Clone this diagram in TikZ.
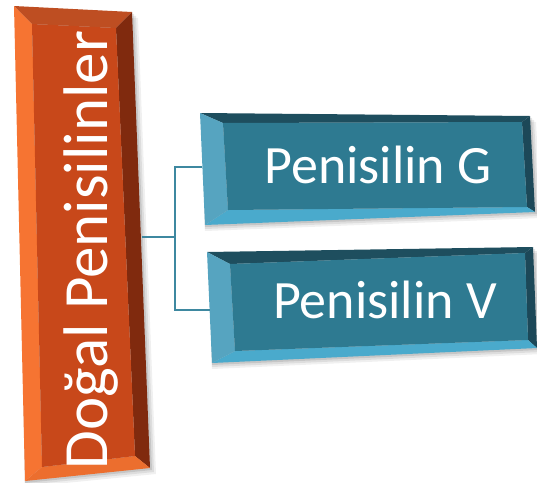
\documentclass[tikz,border=0pt]{standalone}
\usepackage{fontspec}
\setmainfont{Carlito}
\definecolor{orFace}{RGB}{200,72,26}
\definecolor{orTop}{RGB}{190,78,34}
\definecolor{orLeft}{RGB}{246,116,50}
\definecolor{orRight}{RGB}{128,42,14}
\definecolor{orBot}{RGB}{236,110,46}
\definecolor{tlFace}{RGB}{46,122,145}
\definecolor{tlTop}{RGB}{30,78,94}
\definecolor{tlLeft}{RGB}{86,164,192}
\definecolor{tlRight}{RGB}{28,72,88}
\definecolor{tlBot}{RGB}{74,170,204}
\definecolor{lineTeal}{RGB}{62,136,160}
\newcommand\bevelbox[6]{%
  \fill[#3] (#1-o1) -- (#1-o2) -- (#1-i2) -- (#1-i1) -- cycle;
  \fill[#4] (#1-o2) -- (#1-o3) -- (#1-i3) -- (#1-i2) -- cycle;
  \fill[#5] (#1-o3) -- (#1-o4) -- (#1-i4) -- (#1-i3) -- cycle;
  \fill[#6] (#1-o4) -- (#1-o1) -- (#1-i1) -- (#1-i4) -- cycle;
  \fill[#2] (#1-i1) -- (#1-i2) -- (#1-i3) -- (#1-i4) -- cycle;
}
\tikzset{
  conn/.style={draw=lineTeal, line width=2pt},
  boxtext/.style={text=white, font=\fontsize{54}{54}\selectfont, inner sep=0pt},
  sidetext/.style={text=white, font=\fontsize{63}{63}\selectfont, inner sep=0pt, rotate=90},
}
\begin{document}
\begin{tikzpicture}[x=1pt,y=-1pt]
\useasboundingbox (0,0) rectangle (537,482);
% orange box
\coordinate (a-o1) at (14,6);   \coordinate (a-o2) at (132,12);
\coordinate (a-o3) at (150,468); \coordinate (a-o4) at (25,481);
\coordinate (a-i1) at (32,24);  \coordinate (a-i2) at (116,28);
\coordinate (a-i3) at (135,456); \coordinate (a-i4) at (42,467);
% teal box 1
\coordinate (b-o1) at (200,113); \coordinate (b-o2) at (530,116);
\coordinate (b-o3) at (535,212); \coordinate (b-o4) at (205,225);
\coordinate (b-i1) at (223,123); \coordinate (b-i2) at (522,122);
\coordinate (b-i3) at (527,207); \coordinate (b-i4) at (228,210);
% teal box 2
\coordinate (c-o1) at (207,252); \coordinate (c-o2) at (533,247);
\coordinate (c-o3) at (537,348); \coordinate (c-o4) at (212,363);
\coordinate (c-i1) at (230,264); \coordinate (c-i2) at (525,253);
\coordinate (c-i3) at (528,340); \coordinate (c-i4) at (235,351);
% shadows
\foreach \s/\o in {6/0.06,4/0.08,2/0.1}{
  \fill[black,opacity=\o] ([shift={(2,\s)}]b-o1) -- ([shift={(\s,\s)}]b-o2) -- ([shift={(\s,\s)}]b-o3) -- ([shift={(0,\s)}]b-o4) -- cycle;
  \fill[black,opacity=\o] ([shift={(2,\s)}]c-o1) -- ([shift={(\s,\s)}]c-o2) -- ([shift={(\s,\s)}]c-o3) -- ([shift={(0,\s)}]c-o4) -- cycle;
  \fill[black,opacity=\o] ([shift={(2,\s)}]a-o1) -- ([shift={(\s,\s)}]a-o2) -- ([shift={(\s,\s)}]a-o3) -- ([shift={(0,\s)}]a-o4) -- cycle;
}
\bevelbox{a}{orFace}{orTop}{orRight}{orBot}{orLeft}
\bevelbox{b}{tlFace}{tlTop}{tlRight}{tlBot}{tlLeft}
\bevelbox{c}{tlFace}{tlTop}{tlRight}{tlBot}{tlLeft}
% texts
\node[sidetext] (root) at (91,250) {Doğal Penisilinler};
\node[boxtext] (g) at (378,165) {Penisilin G};
\node[boxtext] (v) at (385,300) {Penisilin V};
% connectors
\coordinate (rootR) at (142,237);
\coordinate (junc) at (175,237);
\coordinate (gL) at (202,167);
\coordinate (vL) at (210,310);
\draw[conn] (rootR) -- (junc);
\draw[conn] (gL) -- (junc |- gL) -- (junc |- vL) -- (vL);
\end{tikzpicture}
\end{document}
